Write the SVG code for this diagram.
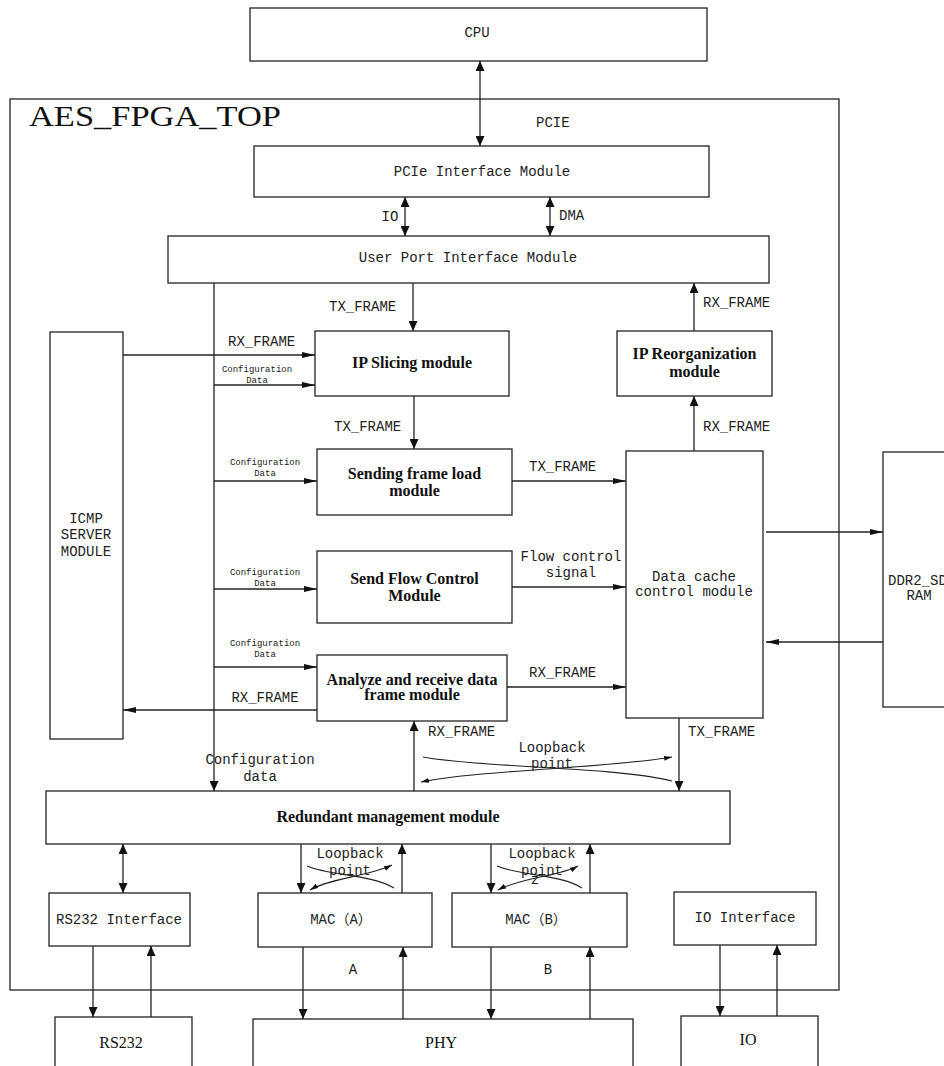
<svg xmlns="http://www.w3.org/2000/svg" width="944" height="1066" viewBox="0 0 944 1066">
  <style>
    .box { fill: #fff; stroke: #222; stroke-width: 1.3; }
    .ln { fill: none; stroke: #222; stroke-width: 1.3; }
    .thin { fill: none; stroke: #222; stroke-width: 1.1; }
    .t { font-family: "Liberation Mono", "Noto Sans CJK SC", monospace; font-size: 14px; fill: #222; }
    .c { text-anchor: middle; }
    .sm { font-size: 9px; }
    .b { font-family: "Liberation Serif", serif; font-weight: bold; font-size: 16px; fill: #111; text-anchor: middle; }
    .s { font-family: "Liberation Serif", serif; font-size: 16px; fill: #111; text-anchor: middle; }
    .title { font-family: "Liberation Serif", serif; font-size: 30px; fill: #111; }
  </style>
  <defs>
    <marker id="ah" viewBox="0 0 13 6" refX="13" refY="3" markerWidth="13" markerHeight="6" markerUnits="userSpaceOnUse" orient="auto-start-reverse">
      <path d="M0,0 L13,3 L0,6 z" fill="#111"/>
    </marker>
    <marker id="av" viewBox="0 0 10 9" refX="10" refY="4.5" markerWidth="10" markerHeight="9" markerUnits="userSpaceOnUse" orient="auto-start-reverse">
      <path d="M0,0 L10,4.5 L0,9 z" fill="#111"/>
    </marker>
    <marker id="as" viewBox="0 0 8 5" refX="8" refY="2.5" markerWidth="8" markerHeight="5" markerUnits="userSpaceOnUse" orient="auto-start-reverse">
      <path d="M0,0 L8,2.5 L0,5 z" fill="#111"/>
    </marker>
  </defs>

  <rect width="944" height="1066" fill="#fff"/>

  <!-- top-level FPGA container -->
  <g id="aes_fpga_top">
    <rect class="box" x="10" y="99" width="829" height="891" fill="none"/>
    <text class="title" x="29" y="126" textLength="252" lengthAdjust="spacingAndGlyphs">AES_FPGA_TOP</text>
  </g>

  <g id="cpu">
    <rect class="box" x="250" y="8" width="457" height="53"/>
    <text class="t c" x="477" y="37">CPU</text>
  </g>

  <g id="pcie_if">
    <rect class="box" x="254" y="146" width="455" height="51"/>
    <text class="t c" x="482" y="176">PCIe Interface Module</text>
  </g>

  <g id="user_port">
    <rect class="box" x="168" y="236" width="601" height="47"/>
    <text class="t c" x="468" y="262">User Port Interface Module</text>
  </g>

  <g id="icmp">
    <rect class="box" x="50" y="332" width="73" height="407"/>
    <text class="t c" x="86" y="523">ICMP</text>
    <text class="t c" x="86" y="539">SERVER</text>
    <text class="t c" x="86" y="556">MODULE</text>
  </g>

  <g id="ip_slicing">
    <rect class="box" x="315" y="331" width="194" height="65"/>
    <text class="b" x="412" y="368">IP Slicing module</text>
  </g>

  <g id="ip_reorg">
    <rect class="box" x="617" y="331" width="155" height="65"/>
    <text class="b" x="694.5" y="359">IP Reorganization</text>
    <text class="b" x="694.5" y="377">module</text>
  </g>

  <g id="send_frame_load">
    <rect class="box" x="317" y="449" width="195" height="66"/>
    <text class="b" x="414.5" y="479">Sending frame load</text>
    <text class="b" x="414.5" y="496">module</text>
  </g>

  <g id="send_flow_ctrl">
    <rect class="box" x="317" y="551" width="195" height="72"/>
    <text class="b" x="414.5" y="584">Send Flow Control</text>
    <text class="b" x="414.5" y="601">Module</text>
  </g>

  <g id="analyze_rx">
    <rect class="box" x="317" y="655" width="190" height="66"/>
    <text class="b" x="412" y="685">Analyze and receive data</text>
    <text class="b" x="412" y="700">frame module</text>
  </g>

  <g id="data_cache">
    <rect class="box" x="626" y="451" width="137" height="267"/>
    <text class="t c" x="694" y="581">Data cache</text>
    <text class="t c" x="694" y="596">control module</text>
  </g>

  <g id="ddr2">
    <rect class="box" x="883" y="452" width="80" height="255"/>
    <text class="t" x="888" y="585">DDR2_SD</text>
    <text class="t c" x="919" y="600">RAM</text>
  </g>

  <g id="redundant">
    <rect class="box" x="46" y="791" width="684" height="53"/>
    <text class="b" x="388" y="822">Redundant management module</text>
  </g>

  <g id="rs232_if">
    <rect class="box" x="49" y="893" width="141" height="53"/>
    <text class="t c" x="119" y="924">RS232 Interface</text>
  </g>

  <g id="mac_a">
    <rect class="box" x="258" y="893" width="174" height="54"/>
    <text class="t c" x="341" y="924">MAC（A）</text>
  </g>

  <g id="mac_b">
    <rect class="box" x="452" y="893" width="175" height="54"/>
    <text class="t c" x="536" y="924">MAC（B）</text>
  </g>

  <g id="io_if">
    <rect class="box" x="674" y="892" width="142" height="53"/>
    <text class="t c" x="745" y="922">IO Interface</text>
  </g>

  <g id="rs232">
    <rect class="box" x="55" y="1017" width="137" height="60"/>
    <text class="s" x="121" y="1048">RS232</text>
  </g>

  <g id="phy">
    <rect class="box" x="253" y="1019" width="380" height="60"/>
    <text class="s" x="441" y="1048">PHY</text>
  </g>

  <g id="io">
    <rect class="box" x="681" y="1016" width="137" height="60"/>
    <text class="s" x="748" y="1045">IO</text>
  </g>

  <!-- connectors -->
  <g id="connectors">
    <!-- CPU <-> PCIe -->
    <path class="ln" d="M480,61 V146" marker-start="url(#av)" marker-end="url(#av)"/>
    <text class="t" x="536" y="127">PCIE</text>

    <!-- PCIe <-> User port -->
    <path class="ln" d="M405,197 V236" marker-start="url(#av)" marker-end="url(#av)"/>
    <text class="t c" x="390" y="221">IO</text>
    <path class="ln" d="M550,197 V236" marker-start="url(#av)" marker-end="url(#av)"/>
    <text class="t" x="559" y="220">DMA</text>

    <!-- configuration bus -->
    <path class="ln" d="M214,283 V791" marker-end="url(#av)"/>
    <text class="t c" x="260" y="764">Configuration</text>
    <text class="t c" x="260" y="781">data</text>

    <!-- TX path -->
    <path class="ln" d="M413,283 V331" marker-end="url(#av)"/>
    <text class="t" x="329" y="311">TX_FRAME</text>
    <path class="ln" d="M414,396 V449" marker-end="url(#av)"/>
    <text class="t" x="334" y="431">TX_FRAME</text>
    <path class="ln" d="M512,481 H626" marker-end="url(#ah)"/>
    <text class="t" x="529" y="471">TX_FRAME</text>

    <!-- RX path to user port -->
    <path class="ln" d="M694,331 V283" marker-end="url(#av)"/>
    <text class="t" x="703" y="307">RX_FRAME</text>
    <path class="ln" d="M694,451 V396" marker-end="url(#av)"/>
    <text class="t" x="703" y="431">RX_FRAME</text>

    <!-- ICMP -> IP slicing -->
    <path class="ln" d="M123,355 H315" marker-end="url(#ah)"/>
    <text class="t" x="228" y="346">RX_FRAME</text>

    <!-- configuration data taps -->
    <path class="ln" d="M214,385 H315" marker-end="url(#ah)"/>
    <text class="t c sm" x="257" y="372">Configuration</text>
    <text class="t c sm" x="257" y="383">Data</text>
    <path class="ln" d="M214,481 H317" marker-end="url(#ah)"/>
    <text class="t c sm" x="265" y="465">Configuration</text>
    <text class="t c sm" x="265" y="476">Data</text>
    <path class="ln" d="M214,589 H317" marker-end="url(#ah)"/>
    <text class="t c sm" x="265" y="575">Configuration</text>
    <text class="t c sm" x="265" y="586">Data</text>
    <path class="ln" d="M214,667 H317" marker-end="url(#ah)"/>
    <text class="t c sm" x="265" y="646">Configuration</text>
    <text class="t c sm" x="265" y="657">Data</text>

    <!-- flow control -->
    <path class="ln" d="M512,587 H626" marker-end="url(#ah)"/>
    <text class="t c" x="571" y="561">Flow control</text>
    <text class="t c" x="571" y="577">signal</text>

    <!-- analyze outputs -->
    <path class="ln" d="M507,687 H626" marker-end="url(#ah)"/>
    <text class="t" x="529" y="677">RX_FRAME</text>
    <path class="ln" d="M317,710 H123" marker-end="url(#ah)"/>
    <text class="t c" x="265" y="702">RX_FRAME</text>

    <!-- data cache <-> DDR2 -->
    <path class="ln" d="M766,532 H883" marker-end="url(#ah)"/>
    <path class="ln" d="M883,642 H766" marker-end="url(#ah)"/>

    <!-- redundant <-> analyze / data cache -->
    <path class="ln" d="M414,791 V721" marker-end="url(#av)"/>
    <text class="t" x="428" y="736">RX_FRAME</text>
    <path class="ln" d="M679,718 V791" marker-end="url(#av)"/>
    <text class="t" x="688" y="736">TX_FRAME</text>

    <!-- upper loopback -->
    <path class="thin" d="M423,757 C480,768 610,766 672,781"/>
    <path class="thin" d="M421,782 C480,770 610,768 672,757" marker-start="url(#as)" marker-end="url(#as)"/>
    <text class="t c" x="552" y="752">Loopback</text>
    <text class="t c" x="552" y="768">point</text>

    <!-- redundant <-> RS232 interface -->
    <path class="ln" d="M123,844 V893" marker-start="url(#av)" marker-end="url(#av)"/>

    <!-- redundant <-> MAC A -->
    <path class="ln" d="M301,844 V893" marker-end="url(#av)"/>
    <path class="ln" d="M402,893 V844" marker-end="url(#av)"/>
    <path class="thin" d="M307,866 C330,876 370,874 394,888"/>
    <path class="thin" d="M310,890 C330,878 370,876 392,865" marker-start="url(#as)" marker-end="url(#as)"/>
    <text class="t c" x="350" y="858">Loopback</text>
    <text class="t c" x="350" y="875">point</text>

    <!-- redundant <-> MAC B -->
    <path class="ln" d="M491,844 V893" marker-end="url(#av)"/>
    <path class="ln" d="M590,893 V844" marker-end="url(#av)"/>
    <path class="thin" d="M497,866 C520,876 560,874 582,888"/>
    <path class="thin" d="M498,890 C520,878 560,876 578,866" marker-start="url(#as)" marker-end="url(#as)"/>
    <text class="t c" x="542" y="858">Loopback</text>
    <text class="t c" x="542" y="875">point</text>
    <text class="t c" x="535" y="884" font-size="6">z</text>

    <!-- interfaces to external devices -->
    <path class="ln" d="M93,946 V1017" marker-end="url(#av)"/>
    <path class="ln" d="M151,1017 V946" marker-end="url(#av)"/>
    <path class="ln" d="M303,947 V1019" marker-end="url(#av)"/>
    <path class="ln" d="M403,1019 V947" marker-end="url(#av)"/>
    <text class="t c" x="353" y="974">A</text>
    <path class="ln" d="M491,947 V1019" marker-end="url(#av)"/>
    <path class="ln" d="M590,1019 V947" marker-end="url(#av)"/>
    <text class="t c" x="548" y="974">B</text>
    <path class="ln" d="M720,945 V1016" marker-end="url(#av)"/>
    <path class="ln" d="M777,1016 V945" marker-end="url(#av)"/>
  </g>
</svg>
